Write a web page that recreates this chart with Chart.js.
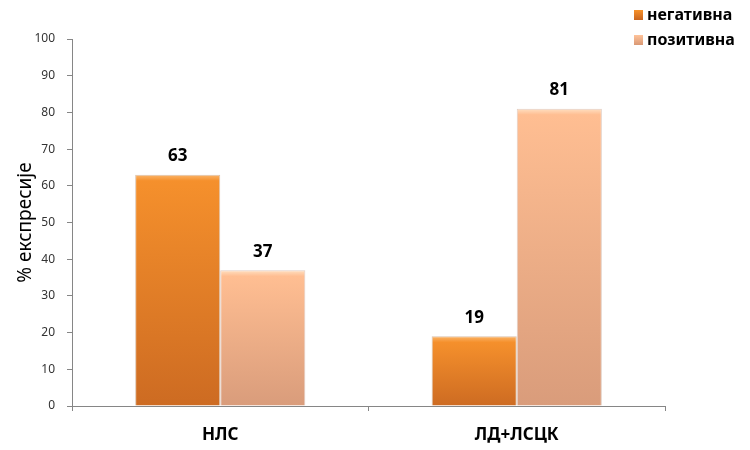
<!DOCTYPE html>
<html>
<head>
<meta charset="utf-8">
<script src="https://cdn.jsdelivr.net/npm/chart.js@4"></script>
<style>
  html, body { margin: 0; padding: 0; background: #fff; }
  #wrap { width: 750px; height: 450px; position: relative; }
</style>
</head>
<body>
<div id="wrap"><canvas id="chart"></canvas></div>
<script>
const categories = ['НЛС', 'ЛД+ЛСЦК'];
const negativna = [63, 19];
const pozitivna = [37, 81];
const seriesNames = ['негативна', 'позитивна'];
const yTicks = [0, 10, 20, 30, 40, 50, 60, 70, 80, 90, 100];

const FONT = '"Noto Sans", "Open Sans", sans-serif';

// gradient per bar, bright at the top, darker at the base, with a thin bevel
function barGradient(ctx, shine, top, bottom) {
    const chart = ctx.chart;
    const area = chart.chartArea;
    if (!area || ctx.raw === undefined) return top;
    const yTop = chart.scales.y.getPixelForValue(ctx.raw);
    const h = Math.max(area.bottom - yTop, 1);
    const g = chart.ctx.createLinearGradient(0, yTop, 0, area.bottom);
    g.addColorStop(0, shine);
    g.addColorStop(Math.min(6 / h, 0.5), top);
    g.addColorStop(1, bottom);
    return g;
}

// numbers above the bars
const valueLabels = {
    id: 'valueLabels',
    afterDatasetsDraw(chart) {
        const ctx = chart.ctx;
        ctx.save();
        ctx.font = 'bold 17px ' + FONT;
        ctx.fillStyle = '#000';
        ctx.textAlign = 'center';
        ctx.textBaseline = 'bottom';
        chart.data.datasets.forEach((ds, i) => {
            chart.getDatasetMeta(i).data.forEach((bar, j) => {
                ctx.fillText(ds.data[j], bar.x, bar.y - 10);
            });
        });
        ctx.restore();
    }
};

// legend in the top right corner, stacked
const cornerLegend = {
    id: 'cornerLegend',
    afterDraw(chart) {
        const ctx = chart.ctx;
        const colors = [['#f7922a', '#c9651f'], ['#ffc39a', '#d99874']];
        ctx.save();
        ctx.font = 'bold 16px ' + FONT;
        ctx.textBaseline = 'middle';
        chart.data.datasets.forEach((ds, i) => {
            const y = 15 + i * 25;
            const g = ctx.createLinearGradient(0, y - 5, 0, y + 5);
            g.addColorStop(0, colors[i][0]);
            g.addColorStop(1, colors[i][1]);
            ctx.fillStyle = g;
            ctx.fillRect(634, y - 5, 9, 10);
            ctx.fillStyle = '#000';
            ctx.fillText(ds.label, 647, y);
        });
        ctx.restore();
    }
};

new Chart(document.getElementById('chart'), {
    type: 'bar',
    data: {
        labels: categories,
        datasets: [{
            label: seriesNames[0],
            data: negativna,
            backgroundColor: ctx => barGradient(ctx, '#fbb56a', '#f5902c', '#cd6b22'),
            borderColor: 'rgba(150, 80, 20, 0.35)',
            borderWidth: 1
        }, {
            label: seriesNames[1],
            data: pozitivna,
            backgroundColor: ctx => barGradient(ctx, '#ffe0c2', '#ffbe92', '#d99c7b'),
            borderColor: 'rgba(170, 110, 80, 0.35)',
            borderWidth: 1
        }]
    },
    plugins: [valueLabels, cornerLegend],
    options: {
        responsive: true,
        maintainAspectRatio: false,
        animation: false,
        layout: { padding: { top: 39, right: 85, left: 0, bottom: 0 } },
        categoryPercentage: 0.574,
        barPercentage: 1,
        plugins: {
            legend: { display: false },
            tooltip: { enabled: false }
        },
        scales: {
            x: {
                grid: {
                    display: true,
                    drawOnChartArea: false,
                    offset: true,
                    tickLength: 5,
                    color: '#868686'
                },
                border: { color: '#868686' },
                ticks: {
                    color: '#000',
                    font: { family: FONT, size: 17, weight: 'bold' },
                    padding: 14
                },
                afterFit(scale) { scale.height = 44; }
            },
            y: {
                min: 0,
                max: 100,
                afterBuildTicks(scale) {
                    scale.ticks = yTicks.map(v => ({ value: v }));
                },
                grid: {
                    display: true,
                    drawOnChartArea: false,
                    tickLength: 5,
                    color: '#868686'
                },
                border: { color: '#868686' },
                ticks: {
                    color: '#333',
                    font: { family: FONT, size: 12 },
                    padding: 12
                },
                title: {
                    display: true,
                    text: '% експресије',
                    color: '#000',
                    font: { family: FONT, size: 19 },
                    padding: { top: 14, bottom: 0 }
                },
                afterFit(scale) { scale.width = 72; }
            }
        }
    }
});
</script>
</body>
</html>
